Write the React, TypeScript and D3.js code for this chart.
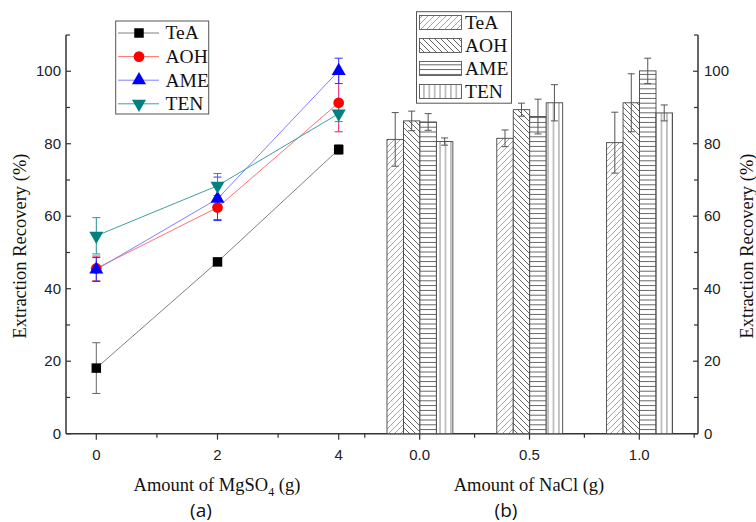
import React from 'react';
import * as d3 from 'd3';

const series = ['TeA', 'AOH', 'AME', 'TEN'];
const mgso4 = [0, 2, 4];
const teaA = [18.1, 47.4, 78.4];
const teaAErr = [7.0, 1.0, 1.3];
const aohA = [45.6, 62.4, 91.3];
const aohAErr = [3.4, 3.3, 8.0];
const ameA = [45.3, 64.8, 100.1];
const ameAErr = [3.3, 6.0, 3.5];
const tenA = [54.6, 68.4, 88.3];
const tenAErr = [5.0, 3.4, 2.2];

const nacl = [0, 0.5, 1.0];
const teaB = [81.2, 81.5, 80.3];
const teaBErr = [7.4, 2.3, 8.4];
const aohB = [86.3, 89.4, 91.3];
const aohBErr = [2.7, 1.8, 8.0];
const ameB = [86.0, 87.5, 100.1];
const ameBErr = [2.3, 4.8, 3.5];
const tenB = [80.6, 91.3, 88.5];
const tenBErr = [1.0, 5.0, 2.2];

const yTicks = [0, 20, 40, 60, 80, 100];
const yMinor = [10, 30, 50, 70, 90, 110];
const xTicksA = [0, 2, 4];
const xMinorA = [1, 3];
const xTicksB = [0, 0.5, 1.0];
const xMinorB = [-0.25, 0.25, 0.75, 1.25];

const lineData = [teaA, aohA, ameA, tenA];
const lineErr = [teaAErr, aohAErr, ameAErr, tenAErr];
const barData = [teaB, aohB, ameB, tenB];
const barErr = [teaBErr, aohBErr, ameBErr, tenBErr];

const markerColor = ['#000000', '#ff0000', '#0000ff', '#008080'];
const lineColor = ['#808080', '#ff7070', '#8080ff', '#40a0a0'];
const errColor = ['#666666', '#e0206a', '#3030ff', '#2a9090'];
const patIds = ['pTeA', 'pAOH', 'pAME', 'pTEN'];

const SANS = 'Liberation Sans, Arial, sans-serif';
const SERIF = 'Liberation Serif, Times New Roman, serif';

export default function App() {
  const y = d3.scaleLinear().domain([0, 110]).range([433.7, 35]);
  const xA = d3.scaleLinear().domain([-0.5, 4.5]).range([66, 369]);
  const xB = d3.scaleLinear().domain([0, 1]).range([419.7, 639.3]);
  const band = d3.scaleBand<string>().domain(series).range([-0.149, 0.151]);
  const leftX = 66, rightX = 698, baseY = y(0), topY = y(110);

  const sym = d3.symbol();
  const markerPath = (i: number) => {
    if (i === 0) return sym.type(d3.symbolSquare).size(90)() as string;
    if (i === 1) return sym.type(d3.symbolCircle).size(90)() as string;
    return sym.type(d3.symbolTriangle).size(85)() as string;
  };
  const line = d3.line<number>().x((_, j) => xA(mgso4[j])).y((d) => y(d));

  const errBar = (cx: number, v: number, e: number, color: string, key: string, cap = 4) => (
    <g key={key} stroke={color} strokeWidth={1} fill="none">
      <line x1={cx} x2={cx} y1={y(v + e)} y2={y(v - e)} />
      <line x1={cx - cap} x2={cx + cap} y1={y(v + e)} y2={y(v + e)} />
      <line x1={cx - cap} x2={cx + cap} y1={y(v - e)} y2={y(v - e)} />
    </g>
  );

  const marker = (i: number, cx: number, cy: number, key: string) => (
    <path
      key={key}
      d={markerPath(i)}
      transform={`translate(${cx},${cy}) ${i === 3 ? 'rotate(180)' : ''}`}
      fill={markerColor[i]}
    />
  );

  return (
    <svg width={756} height={522} style={{ position: 'absolute', left: 0, top: 0, background: '#fff' }}>
      <defs>
        <pattern id="pTeA" patternUnits="userSpaceOnUse" width={6} height={6}>
          <rect width={6} height={6} fill="#fff" />
          <path d="M0,6 L6,0 M-1,1 L1,-1 M5,7 L7,5" stroke="#999" strokeWidth={0.9} />
        </pattern>
        <pattern id="pAOH" patternUnits="userSpaceOnUse" width={6} height={6}>
          <rect width={6} height={6} fill="#fff" />
          <path d="M0,0 L6,6 M-1,5 L1,7 M5,-1 L7,1" stroke="#555" strokeWidth={0.9} />
        </pattern>
        <pattern id="pAME" patternUnits="userSpaceOnUse" width={6} height={4.8}>
          <rect width={6} height={4.8} fill="#fff" />
          <path d="M0,2.4 L6,2.4" stroke="#555" strokeWidth={0.9} />
        </pattern>
        <pattern id="pTEN" patternUnits="userSpaceOnUse" width={5.4} height={6}>
          <rect width={5.4} height={6} fill="#fff" />
          <path d="M2.7,0 L2.7,6" stroke="#777" strokeWidth={0.9} />
        </pattern>
      </defs>

      {/* Axes */}
      <g stroke="#333" strokeWidth={1.5} fill="none">
        <line x1={leftX} x2={leftX} y1={topY} y2={baseY} />
        <line x1={rightX} x2={rightX} y1={topY} y2={baseY} />
        <line x1={leftX} x2={rightX} y1={baseY} y2={baseY} />
      </g>
      <g stroke="#333" strokeWidth={1.2}>
        {yTicks.map((t) => (
          <g key={'yt' + t}>
            <line x1={leftX} x2={leftX + 5} y1={y(t)} y2={y(t)} />
            <line x1={rightX} x2={rightX - 5} y1={y(t)} y2={y(t)} />
          </g>
        ))}
        {yMinor.map((t) => (
          <g key={'ym' + t}>
            <line x1={leftX} x2={leftX + 4} y1={y(t)} y2={y(t)} />
            <line x1={rightX} x2={rightX - 4} y1={y(t)} y2={y(t)} />
          </g>
        ))}
        {xTicksA.map((t) => (
          <line key={'xa' + t} x1={xA(t)} x2={xA(t)} y1={baseY} y2={baseY + 6} />
        ))}
        {xMinorA.map((t) => (
          <line key={'xam' + t} x1={xA(t)} x2={xA(t)} y1={baseY} y2={baseY + 4} />
        ))}
        {xTicksB.map((t) => (
          <line key={'xb' + t} x1={xB(t)} x2={xB(t)} y1={baseY} y2={baseY + 6} />
        ))}
        {xMinorB.map((t) => (
          <line key={'xbm' + t} x1={xB(t)} x2={xB(t)} y1={baseY} y2={baseY + 4} />
        ))}
      </g>
      <g fontFamily={SANS} fontSize={15} fill="#222">
        {yTicks.map((t) => (
          <text key={'yl' + t} x={61} y={y(t)} dy="0.35em" textAnchor="end">{t}</text>
        ))}
        {yTicks.map((t) => (
          <text key={'yr' + t} x={704} y={y(t)} dy="0.35em" textAnchor="start">{t}</text>
        ))}
        {xTicksA.map((t) => (
          <text key={'xal' + t} x={xA(t)} y={460} textAnchor="middle">{t}</text>
        ))}
        {xTicksB.map((t) => (
          <text key={'xbl' + t} x={xB(t)} y={460} textAnchor="middle">{d3.format('.1f')(t)}</text>
        ))}
      </g>

      {/* Axis titles */}
      <g fontFamily={SERIF} fontSize={18.5} fill="#111">
        <text transform="translate(26,246) rotate(-90)" textAnchor="middle">Extraction Recovery (%)</text>
        <text transform="translate(753,246) rotate(-90)" textAnchor="middle">Extraction Recovery (%)</text>
        <text x={217} y={491} textAnchor="middle">
          Amount of MgSO<tspan fontSize={12} dy={5}>4</tspan><tspan dy={-5}> (g)</tspan>
        </text>
        <text x={529} y={491} textAnchor="middle">Amount of NaCl (g)</text>
      </g>
      <g fontFamily="Open Sans, Noto Sans, sans-serif" fontSize={19} fill="#111">
        <text x={201} y={517} textAnchor="middle">(a)</text>
        <text x={506} y={517} textAnchor="middle">(b)</text>
      </g>

      {/* Panel a lines */}
      {lineData.map((d, i) => (
        <path key={'ln' + i} d={line(d) as string} fill="none" stroke={lineColor[i]} strokeWidth={1} />
      ))}
      {lineData.map((d, i) =>
        d.map((v, j) => errBar(xA(mgso4[j]), v, lineErr[i][j], errColor[i], `ea${i}-${j}`))
      )}
      {lineData.map((d, i) => d.map((v, j) => marker(i, xA(mgso4[j]), y(v), `m${i}-${j}`)))}

      {/* Panel b bars */}
      {barData.map((d, i) =>
        d.map((v, j) => {
          const x0 = xB(nacl[j] + (band(series[i]) as number));
          const x1 = xB(nacl[j] + (band(series[i]) as number) + band.bandwidth());
          return (
            <rect
              key={`b${i}-${j}`}
              x={x0}
              y={y(v)}
              width={x1 - x0}
              height={baseY - y(v)}
              fill={`url(#${patIds[i]})`}
              stroke="#444"
              strokeWidth={0.9}
            />
          );
        })
      )}
      {barData.map((d, i) =>
        d.map((v, j) => {
          const cx = xB(nacl[j] + (band(series[i]) as number) + band.bandwidth() / 2);
          return errBar(cx, v, barErr[i][j], '#555', `eb${i}-${j}`, 3.5);
        })
      )}

      {/* Legend a */}
      <rect x={115.7} y={21} width={93} height={93} fill="#fff" stroke="#555" strokeWidth={1} />
      {series.map((s, i) => {
        const cy = 33 + i * 23.6;
        return (
          <g key={'la' + s}>
            <line x1={118} x2={159} y1={cy} y2={cy} stroke={lineColor[i]} strokeWidth={1} />
            {marker(i, 139, cy, 'lm' + s)}
            <text x={165.5} y={cy} dy="0.33em" fontFamily={SERIF} fontSize={19.5} fill="#111">{s}</text>
          </g>
        );
      })}

      {/* Legend b */}
      <rect x={416.5} y={11.7} width={95} height={91.5} fill="#fff" stroke="#555" strokeWidth={1} />
      {series.map((s, i) => {
        const ty = 15.5 + i * 23;
        return (
          <g key={'lb' + s}>
            <rect x={419.5} y={ty} width={42} height={14} fill={`url(#${patIds[i]})`} stroke="#555" strokeWidth={0.9} />
            <text x={465} y={ty + 7} dy="0.33em" fontFamily={SERIF} fontSize={19.5} fill="#111">{s}</text>
          </g>
        );
      })}
    </svg>
  );
}
